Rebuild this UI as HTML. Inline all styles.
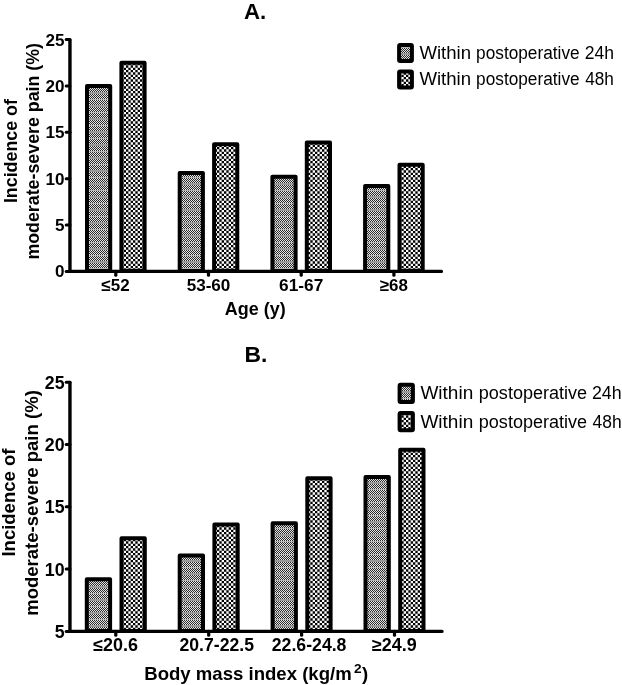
<!DOCTYPE html>
<html><head><meta charset="utf-8"><title>Figure</title>
<style>
html,body{margin:0;padding:0;background:#fff}
svg{display:block}
text{font-family:"Liberation Sans",Arial,sans-serif;fill:#000}
.b{font-weight:700}
.r{font-weight:400}
</style></head><body>
<svg width="622" height="685" viewBox="0 0 622 685">
<defs>
<pattern id="p1" width="2" height="13" patternUnits="userSpaceOnUse" x="0" y="3">
<rect width="2" height="13" fill="#e6e6e6"/>
<rect x="0" y="0" width="1" height="1" fill="#2a2a2a"/>
<rect x="1" y="1" width="1" height="1" fill="#2a2a2a"/>
<rect x="0" y="2" width="1" height="1" fill="#2a2a2a"/>
<rect x="1" y="3" width="1" height="1" fill="#2a2a2a"/>
<rect x="0" y="4" width="1" height="1" fill="#2a2a2a"/>
<rect x="0" y="6" width="1" height="1" fill="#2a2a2a"/>
<rect x="1" y="7" width="1" height="1" fill="#2a2a2a"/>
<rect x="0" y="8" width="1" height="1" fill="#2a2a2a"/>
<rect x="1" y="9" width="1" height="1" fill="#2a2a2a"/>
<rect x="0" y="10" width="1" height="1" fill="#2a2a2a"/>
<rect y="5" width="2" height="1" fill="#b4b4b4"/>
<rect y="11" width="2" height="2" fill="#999"/>
</pattern>
<pattern id="p2" width="14" height="14" patternUnits="userSpaceOnUse" x="0" y="0">
<rect width="14" height="14" fill="#fff"/>
<path d="M0 0h2.33v2.33h-2.33zM0 4.67h2.33v2.33h-2.33zM0 9.33h2.33v2.33h-2.33zM2.33 2.33h2.33v2.33h-2.33zM2.33 7h2.33v2.33h-2.33zM2.33 11.67h2.33v2.33h-2.33zM4.67 0h2.33v2.33h-2.33zM4.67 4.67h2.33v2.33h-2.33zM4.67 9.33h2.33v2.33h-2.33zM7 2.33h2.33v2.33h-2.33zM7 7h2.33v2.33h-2.33zM7 11.67h2.33v2.33h-2.33zM9.33 0h2.33v2.33h-2.33zM9.33 4.67h2.33v2.33h-2.33zM9.33 9.33h2.33v2.33h-2.33zM11.67 2.33h2.33v2.33h-2.33zM11.67 7h2.33v2.33h-2.33zM11.67 11.67h2.33v2.33h-2.33z" fill="#000"/>
</pattern>
</defs>
<rect width="622" height="685" fill="#fff"/>
<rect x="87" y="85.96" width="23.2" height="185.04" fill="url(#p1)" stroke="#000" stroke-width="4" stroke-linejoin="round"/>
<rect x="121.4" y="62.78" width="23.2" height="208.22" fill="url(#p2)" stroke="#000" stroke-width="4" stroke-linejoin="round"/>
<rect x="179.7" y="173.12" width="23.2" height="97.88" fill="url(#p1)" stroke="#000" stroke-width="4" stroke-linejoin="round"/>
<rect x="214.1" y="144.37" width="23.2" height="126.63" fill="url(#p2)" stroke="#000" stroke-width="4" stroke-linejoin="round"/>
<rect x="272.4" y="176.83" width="23.2" height="94.17" fill="url(#p1)" stroke="#000" stroke-width="4" stroke-linejoin="round"/>
<rect x="306.8" y="142.52" width="23.2" height="128.48" fill="url(#p2)" stroke="#000" stroke-width="4" stroke-linejoin="round"/>
<rect x="365.1" y="186.1" width="23.2" height="84.9" fill="url(#p1)" stroke="#000" stroke-width="4" stroke-linejoin="round"/>
<rect x="399.5" y="164.77" width="23.2" height="106.23" fill="url(#p2)" stroke="#000" stroke-width="4" stroke-linejoin="round"/>
<path d="M69.95 39.9V271.4H441.4" fill="none" stroke="#000" stroke-width="3.4" stroke-linecap="round" stroke-linejoin="miter"/>
<path d="M69.95 271.4H66.2" stroke="#000" stroke-width="3" stroke-linecap="round"/>
<text transform="translate(64.6 277.4)" text-anchor="end" class="b" font-size="17.1">0</text>
<path d="M69.95 225.04H66.2" stroke="#000" stroke-width="3" stroke-linecap="round"/>
<text transform="translate(64.6 231.04)" text-anchor="end" class="b" font-size="17.1">5</text>
<path d="M69.95 178.68H66.2" stroke="#000" stroke-width="3" stroke-linecap="round"/>
<text transform="translate(64.6 184.68)" text-anchor="end" class="b" font-size="17.1">10</text>
<path d="M69.95 132.32H66.2" stroke="#000" stroke-width="3" stroke-linecap="round"/>
<text transform="translate(64.6 138.32)" text-anchor="end" class="b" font-size="17.1">15</text>
<path d="M69.95 85.96H66.2" stroke="#000" stroke-width="3" stroke-linecap="round"/>
<text transform="translate(64.6 91.96)" text-anchor="end" class="b" font-size="17.1">20</text>
<path d="M69.95 39.6H66.2" stroke="#000" stroke-width="3" stroke-linecap="round"/>
<text transform="translate(64.6 45.6)" text-anchor="end" class="b" font-size="17.1">25</text>
<path d="M115.8 271.4V275.2" stroke="#000" stroke-width="3.2" stroke-linecap="round"/>
<text transform="translate(101.33 290.9) scale(0.9959 1)" class="b" font-size="17.1">≤52</text>
<path d="M208.5 271.4V275.2" stroke="#000" stroke-width="3.2" stroke-linecap="round"/>
<text transform="translate(186.63 290.9) scale(1.0006 1)" class="b" font-size="17.1">53-60</text>
<path d="M301.2 271.4V275.2" stroke="#000" stroke-width="3.2" stroke-linecap="round"/>
<text transform="translate(279.06 290.9) scale(1.0116 1)" class="b" font-size="17.1">61-67</text>
<path d="M393.9 271.4V275.2" stroke="#000" stroke-width="3.2" stroke-linecap="round"/>
<text transform="translate(379.69 290.9) scale(0.9905 1)" class="b" font-size="17.1">≥68</text>
<text transform="translate(243.95 18.5) scale(1.0120 1)" class="b" font-size="22">A.</text>
<text transform="translate(224.82 314.5) scale(1.0035 1)" class="b" font-size="17.9">Age (y)</text>
<text transform="translate(16.7 203.12) rotate(-90) scale(0.9975 1)" class="b" font-size="17.9">Incidence of</text>
<text transform="translate(38.6 259.61) rotate(-90) scale(0.9949 1)" class="b" font-size="17.9">moderate-severe pain (%)</text>
<rect x="399.1" y="44.9" width="12.8" height="16" rx="1" fill="url(#p1)" stroke="#000" stroke-width="4" stroke-linejoin="round"/>
<text transform="translate(419.4 58.6) scale(1.0532 1)" class="r" font-size="17.65">Within</text>
<text transform="translate(476.12 58.6) scale(0.9774 1)" class="r" font-size="17.65">postoperative</text>
<text transform="translate(584.68 58.6) scale(0.9953 1)" class="r" font-size="17.65">24h</text>
<rect x="399.1" y="71.55" width="12.8" height="16" rx="1" fill="url(#p2)" stroke="#000" stroke-width="4" stroke-linejoin="round"/>
<text transform="translate(419.4 85.3) scale(1.0532 1)" class="r" font-size="17.65">Within</text>
<text transform="translate(476.12 85.3) scale(0.9774 1)" class="r" font-size="17.65">postoperative</text>
<text transform="translate(585.23 85.3) scale(0.9758 1)" class="r" font-size="17.65">48h</text>
<rect x="86.8" y="579.27" width="23.3" height="51.73" fill="url(#p1)" stroke="#000" stroke-width="4" stroke-linejoin="round"/>
<rect x="121.5" y="538.15" width="23.3" height="92.85" fill="url(#p2)" stroke="#000" stroke-width="4" stroke-linejoin="round"/>
<rect x="179.7" y="555.59" width="23.3" height="75.41" fill="url(#p1)" stroke="#000" stroke-width="4" stroke-linejoin="round"/>
<rect x="214.4" y="524.44" width="23.3" height="106.56" fill="url(#p2)" stroke="#000" stroke-width="4" stroke-linejoin="round"/>
<rect x="272.6" y="523.2" width="23.3" height="107.8" fill="url(#p1)" stroke="#000" stroke-width="4" stroke-linejoin="round"/>
<rect x="307.3" y="478.34" width="23.3" height="152.66" fill="url(#p2)" stroke="#000" stroke-width="4" stroke-linejoin="round"/>
<rect x="365.5" y="477.1" width="23.3" height="153.9" fill="url(#p1)" stroke="#000" stroke-width="4" stroke-linejoin="round"/>
<rect x="400.2" y="449.68" width="23.3" height="181.32" fill="url(#p2)" stroke="#000" stroke-width="4" stroke-linejoin="round"/>
<path d="M69.95 382.5V631.4H442" fill="none" stroke="#000" stroke-width="3.4" stroke-linecap="round" stroke-linejoin="miter"/>
<path d="M69.95 631.4H66.2" stroke="#000" stroke-width="3" stroke-linecap="round"/>
<text transform="translate(64.6 637.9)" text-anchor="end" class="b" font-size="17.8">5</text>
<path d="M69.95 569.1H66.2" stroke="#000" stroke-width="3" stroke-linecap="round"/>
<text transform="translate(64.6 575.6)" text-anchor="end" class="b" font-size="17.8">10</text>
<path d="M69.95 506.8H66.2" stroke="#000" stroke-width="3" stroke-linecap="round"/>
<text transform="translate(64.6 513.3)" text-anchor="end" class="b" font-size="17.8">15</text>
<path d="M69.95 444.5H66.2" stroke="#000" stroke-width="3" stroke-linecap="round"/>
<text transform="translate(64.6 451)" text-anchor="end" class="b" font-size="17.8">20</text>
<path d="M69.95 382.2H66.2" stroke="#000" stroke-width="3" stroke-linecap="round"/>
<text transform="translate(64.6 388.7)" text-anchor="end" class="b" font-size="17.8">25</text>
<path d="M115.8 631.4V635.2" stroke="#000" stroke-width="3.2" stroke-linecap="round"/>
<text transform="translate(93.22 651.4) scale(1.0093 1)" class="b" font-size="17.8">≤20.6</text>
<path d="M208.7 631.4V635.2" stroke="#000" stroke-width="3.2" stroke-linecap="round"/>
<text transform="translate(179.45 651.4) scale(0.9910 1)" class="b" font-size="17.8">20.7-22.5</text>
<path d="M301.6 631.4V635.2" stroke="#000" stroke-width="3.2" stroke-linecap="round"/>
<text transform="translate(271.75 651.4) scale(0.9937 1)" class="b" font-size="17.8">22.6-24.8</text>
<path d="M394.5 631.4V635.2" stroke="#000" stroke-width="3.2" stroke-linecap="round"/>
<text transform="translate(371.92 651.4) scale(1.0093 1)" class="b" font-size="17.8">≥24.9</text>
<text transform="translate(244.47 361.8) scale(1.0125 1)" class="b" font-size="22.6">B.</text>
<text transform="translate(144.24 679.9) scale(1.0046 1)" class="b" font-size="18.5">Body mass index (kg/m<tspan dx="2.4" dy="-6.6" font-size="13.6">2</tspan><tspan dy="6.6" dx="0.2">)</tspan></text>
<text transform="translate(15.4 556.56) rotate(-90) scale(1.0002 1)" class="b" font-size="18.5">Incidence of</text>
<text transform="translate(37.5 615.86) rotate(-90) scale(1.0030 1)" class="b" font-size="18.5">moderate-severe pain (%)</text>
<rect x="399.6" y="384.7" width="13.3" height="17.2" rx="1" fill="url(#p1)" stroke="#000" stroke-width="4" stroke-linejoin="round"/>
<text transform="translate(420.4 399.2) scale(1.0398 1)" class="r" font-size="18.3">Within</text>
<text transform="translate(478.82 399.2) scale(0.9858 1)" class="r" font-size="18.3">postoperative</text>
<text transform="translate(591.96 399.2) scale(0.9739 1)" class="r" font-size="18.3">24h</text>
<rect x="399.6" y="413.1" width="13.3" height="17.2" rx="1" fill="url(#p2)" stroke="#000" stroke-width="4" stroke-linejoin="round"/>
<text transform="translate(420.4 427.7) scale(1.0398 1)" class="r" font-size="18.3">Within</text>
<text transform="translate(478.82 427.7) scale(0.9858 1)" class="r" font-size="18.3">postoperative</text>
<text transform="translate(592.53 427.7) scale(0.9549 1)" class="r" font-size="18.3">48h</text>
</svg>
</body></html>
